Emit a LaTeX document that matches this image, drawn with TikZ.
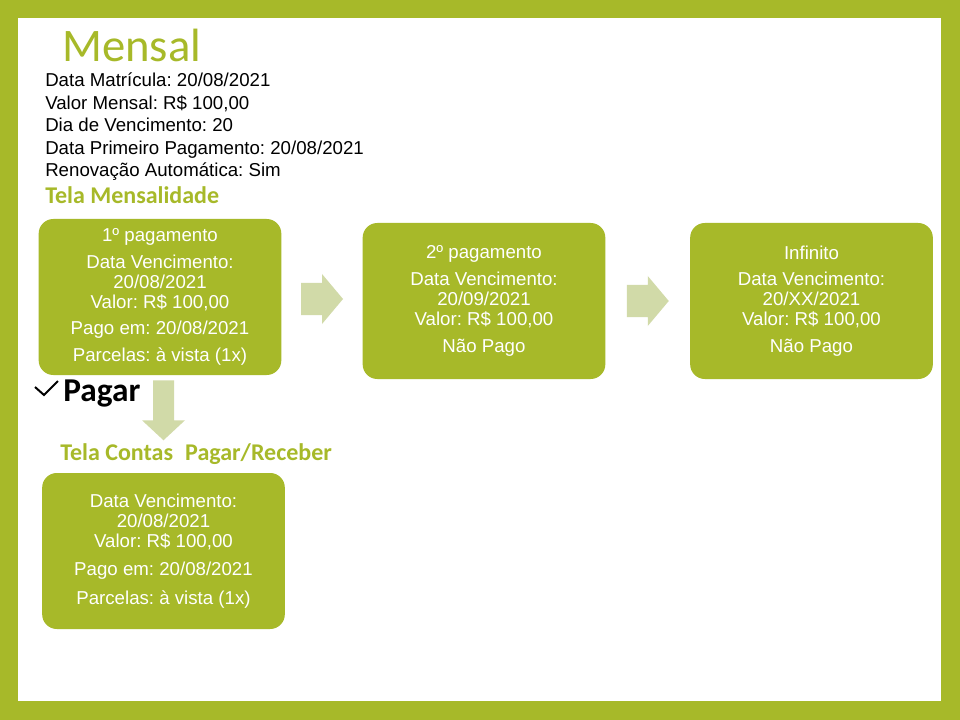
\documentclass[tikz,border=0pt]{standalone}
\usepackage{fontspec}
\setmainfont{Liberation Sans}
\newfontfamily\headfont{Carlito}
\usetikzlibrary{positioning,calc}
\frenchspacing

\definecolor{framegreen}{RGB}{167,185,41}
\definecolor{arrowfill}{RGB}{209,218,168}

\tikzset{
  paybox/.style={fill=framegreen, rounded corners=11pt, minimum width=182pt,
    minimum height=117pt, inner sep=0pt, text=white, align=center,
    font=\fontsize{14pt}{15pt}\selectfont,
    execute at begin node={\rule{0pt}{#1}}},
  infotext/.style={anchor=base west, inner sep=0pt, font=\fontsize{14pt}{16pt}\selectfont},
  screentitle/.style={anchor=base west, inner sep=0pt, text=framegreen,
    font=\headfont\bfseries\fontsize{18pt}{20pt}\selectfont},
}

\begin{document}
\begin{tikzpicture}[x=0.75pt, y=-0.75pt]
  % Frame
  \fill[framegreen] (0,0) rectangle (960,720);
  \fill[white] (18,18) rectangle (941,701);
  \useasboundingbox (0,0) rectangle (960,720);

  % Heading and plan data
  \node[anchor=base west, inner sep=0pt, text=framegreen,
        font=\headfont\fontsize{35pt}{38pt}\selectfont] (title) at (62,62) {Mensal};
  \foreach \txt [count=\i] in {{Data Matrícula: 20/08/2021}, {Valor Mensal: R\$ 100,00},
      {Dia de Vencimento: 20}, {Data Primeiro Pagamento: 20/08/2021},
      {Renovação Automática: Sim}}
    \node[infotext] (info\i) at (45,64.5+22.5*\i) {\txt};

  % Tela Mensalidade
  \node[screentitle] (telamens) at (45,204) {Tela Mensalidade};
  \node[paybox=18pt] (pay1) at (160,297) {1º pagamento\\[5pt]
    Data Vencimento:\\ 20/08/2021\\ Valor: R\$ 100,00\\[5pt]
    Pago em: 20/08/2021\\[5pt] Parcelas: à vista (1x)};
  \node[paybox=21.5pt] (pay2) at (484,301) {2º pagamento\\[5pt]
    Data Vencimento:\\ 20/09/2021\\ Valor: R\$ 100,00\\[5pt] Não Pago};
  \node[paybox=21.5pt] (payinf) at (811.5,301) {Infinito\\[5pt]
    Data Vencimento:\\ 20/XX/2021\\ Valor: R\$ 100,00\\[5pt] Não Pago};

  % Block arrows between payments
  \foreach \a/\b in {pay1/pay2, pay2/payinf}
    \fill[arrowfill] ($(\a.east)!0.5!(\b.west)$) ++(-21,-16) -- ++(21,0) -- ++(0,-9)
      -- ++(21,25) -- ++(-21,25) -- ++(0,-9) -- ++(-21,0) -- cycle;

  % Pay action
  \node[anchor=base west, inner sep=0pt,
        font=\headfont\bfseries\fontsize{25pt}{27pt}\selectfont] (pagar) at (63,401) {Pagar};
  \draw[line width=1.5pt] ($(pagar.base west)+(-28,-14)$) -- ++(9,8) -- ++(14,-14);
  \fill[arrowfill] ($(pay1.south)+(3.5,5)$) ++(-10.5,0) -- ++(21,0) -- ++(0,40)
    -- ++(11,0) -- ++(-21.5,20) -- ++(-21.5,-20) -- ++(11,0) -- cycle;

  % Tela Contas Pagar/Receber
  \node[screentitle] (telacontas) at (60,460) {Tela Contas\hspace{5pt} Pagar/Receber};
  \node[paybox=24.5pt] (conta) at (163.5,551) {Data Vencimento:\\ 20/08/2021\\
    Valor: R\$ 100,00\\[6.5pt] Pago em: 20/08/2021\\[6.5pt] Parcelas: à vista (1x)};
\end{tikzpicture}
\end{document}
